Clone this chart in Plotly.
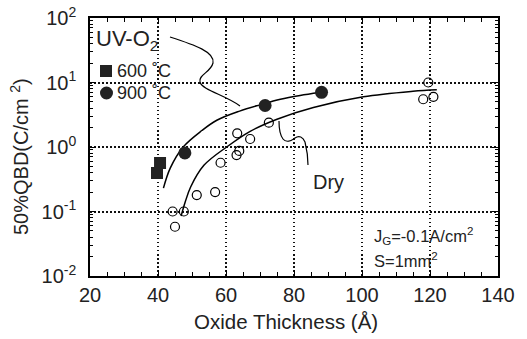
import plotly.graph_objects as go

# ---- data ----
uv600_x = [39.7, 40.6]
uv600_y = [0.395, 0.565]

uv900_x = [47.9, 71.5, 88.1]
uv900_y = [0.81, 4.4, 7.05]

dry_x = [44.3, 45.0, 47.6, 51.4, 56.8, 58.4, 63.1, 63.9, 63.3, 67.1, 72.6, 118.0, 119.5, 121.0]
dry_y = [0.10, 0.058, 0.10, 0.18, 0.20, 0.57, 0.75, 0.87, 1.63, 1.33, 2.38, 5.5, 10.0, 6.0]

# fitted guide curves
uv_fit_x = [41.6, 43.6, 47.4, 52.9, 57.3, 64.0, 70.0, 76.0, 81.8, 87.5]
uv_fit_y = [0.23, 0.47, 1.0, 1.8, 2.6, 3.6, 4.5, 5.5, 6.3, 7.0]

dry_fit_x = [46.8, 48.0, 49.6, 53.5, 60.2, 67.1, 75.0, 85.7, 100.4, 115.0, 122.0]
dry_fit_y = [0.085, 0.14, 0.24, 0.52, 1.0, 1.75, 2.7, 4.1, 6.0, 7.3, 7.7]

x_ticks = [20, 40, 60, 80, 100, 120, 140]
y_ticks = [0.01, 0.1, 1, 10, 100]
y_ticktext = ["10<sup>-2</sup>", "10<sup>-1</sup>", "10<sup>0</sup>", "10<sup>1</sup>", "10<sup>2</sup>"]

FONT = "Liberation Sans, Arial, Helvetica, sans-serif"

# plot-area geometry (pixels) for decorations in paper coordinates
L, R, T, B = 90, 498, 18, 276
def px(x):
    return (x - L) / (R - L)
def py(y):
    return (B - y) / (B - T)

fig = go.Figure()

fig.add_trace(go.Scatter(x=uv_fit_x, y=uv_fit_y, mode="lines", line=dict(color="black", width=1.5, shape="spline"),
                         showlegend=False, hoverinfo="skip"))
fig.add_trace(go.Scatter(x=dry_fit_x, y=dry_fit_y, mode="lines", line=dict(color="black", width=1.5, shape="spline"),
                         showlegend=False, hoverinfo="skip"))
fig.add_trace(go.Scatter(x=dry_x, y=dry_y, mode="markers", name="Dry",
                         marker=dict(symbol="circle-open", size=9, color="black", line=dict(width=1.2, color="black")),
                         showlegend=False))
fig.add_trace(go.Scatter(x=uv600_x, y=uv600_y, mode="markers", name="600 °C",
                         marker=dict(symbol="square", size=12, color="#222"), showlegend=False))
fig.add_trace(go.Scatter(x=uv900_x, y=uv900_y, mode="markers", name="900 °C",
                         marker=dict(symbol="circle", size=13, color="#222"), showlegend=False))

def path(points):
    d = "M{},{}".format(px(points[0][0]), py(points[0][1]))
    pts = points[1:]
    for i in range(0, len(pts), 3):
        a, b, c = pts[i], pts[i + 1], pts[i + 2]
        d += " C{},{} {},{} {},{}".format(px(a[0]), py(a[1]), px(b[0]), py(b[1]), px(c[0]), py(c[1]))
    return d

shapes = [
    # leader for UV-O2
    dict(type="path", xref="paper", yref="paper", line=dict(color="black", width=1.2),
         path=path([(170, 37), (195, 45), (215, 52), (213, 63), (211, 72), (198, 75), (200, 82),
                    (202, 90), (225, 95), (240, 106)])),
    # leader for Dry
    dict(type="path", xref="paper", yref="paper", line=dict(color="black", width=1.2),
         path=path([(279, 121), (279, 128), (280, 135), (283, 139), (286, 143), (291, 141), (295, 138),
                    (299, 135), (303, 137), (305, 142), (307, 150), (308, 158), (308, 165)])),
    # legend symbols
    dict(type="rect", xref="paper", yref="paper", x0=px(100), x1=px(112), y0=py(77), y1=py(65),
         fillcolor="#222", line=dict(width=0)),
    dict(type="circle", xref="paper", yref="paper", x0=px(100), x1=px(113), y0=py(99.5), y1=py(86.5),
         fillcolor="#222", line=dict(width=0)),
]

def ann(text, x, y, size, xanchor="left", yanchor="middle", **kw):
    return dict(text=text, xref="paper", yref="paper", x=px(x), y=py(y), showarrow=False,
                xanchor=xanchor, yanchor=yanchor, font=dict(family=FONT, size=size, color="#222"), **kw)

annotations = [
    ann("UV-O<sub>2</sub>", 94, 40, 22),
    ann("600 ˚C", 115, 71, 18),
    ann("900 ˚C", 115, 93, 18),
    ann("Dry", 328, 182, 20, xanchor="center"),
    ann("J<sub>G</sub>=-0.1A/cm<sup>2</sup>", 372, 236, 16.5),
    ann("S=1mm<sup>2</sup>", 372, 260, 16.5),
    ann("Oxide Thickness (Å)", 286, 321, 20.5, xanchor="center"),
    ann("50%QBD(C/cm <sup>2</sup>)", 19, 157, 20, xanchor="center", textangle=-90),
]

axis_common = dict(showline=True, linecolor="black", linewidth=1.5, mirror="ticks",
                   ticks="inside", tickcolor="black", ticklen=6, tickwidth=1.2, automargin=False,
                   showgrid=True, gridcolor="#111", gridwidth=1.5, griddash="1.5px,2.5px",
                   zeroline=False, tickfont=dict(family=FONT, size=20, color="#222"))

fig.update_xaxes(range=[20, 140], tickvals=x_ticks, ticklabelstandoff=0,
                 minor=dict(ticks="inside", ticklen=4, tickcolor="black", dtick=5, showgrid=False),
                 **axis_common)
fig.update_yaxes(type="log", range=[-2, 2], tickvals=y_ticks, ticktext=y_ticktext, ticklabelstandoff=8,
                 minor=dict(ticks="inside", ticklen=3, tickcolor="black", dtick="D1", showgrid=False),
                 **axis_common)

fig.update_layout(width=527, height=339, margin=dict(l=L, r=527 - R, t=T, b=339 - B),
                  paper_bgcolor="white", plot_bgcolor="white", showlegend=False,
                  font=dict(family=FONT, color="#222"), shapes=shapes, annotations=annotations)

fig.write_html("out.html", config={"displayModeBar": False},
               post_script="document.body.style.margin='0';document.body.style.overflow='hidden';")
